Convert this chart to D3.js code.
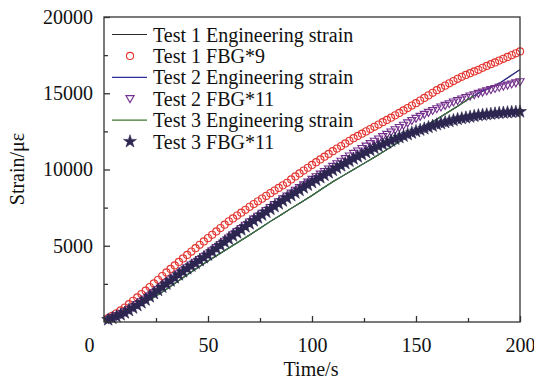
<!DOCTYPE html>
<html>
<head>
<meta charset="utf-8">
<script src="https://cdn.jsdelivr.net/npm/d3@7"></script>
<style>
  html, body { margin: 0; padding: 0; background: #fff; }
  svg { display: block; }
  svg text { font-family: "Liberation Serif", "Times New Roman", Times, serif !important; }
</style>
</head>
<body>
<svg id="chart" width="534" height="384"></svg>
<script>
// Sampling times (s)
const fbgTime = d3.range(2, 201, 2);
const engTime = [2, 5, 10, 15, 20, 25, 30, 35, 40, 45, 50, 55, 60, 65, 70, 75, 80, 85, 90, 95, 100,
  105, 110, 115, 120, 125, 130, 135, 140, 145, 150, 155, 160, 165, 170, 175, 180, 185, 190, 195, 200];

// Engineering strain (με)
const eng1 = [120, 250, 560, 900, 1280, 1700, 2150, 2620, 3100, 3560, 4000, 4430, 4850, 5280, 5700, 6150, 6600,
  7020, 7450, 7870, 8300, 8750, 9200, 9600, 10000, 10400, 10800, 11220, 11650, 12080, 12500, 12900, 13300,
  13720, 14150, 14600, 15000, 15330, 15650, 16100, 16550];
const eng2 = [120, 250, 560, 900, 1280, 1700, 2150, 2620, 3100, 3560, 4000, 4430, 4850, 5280, 5700, 6150, 6600,
  7020, 7450, 7870, 8300, 8750, 9200, 9600, 10000, 10400, 10800, 11220, 11650, 12080, 12500, 12900, 13300,
  13720, 14150, 14600, 15000, 15330, 15650, 16100, 16550];
const eng3Time = [2, 5, 10, 15, 20, 25, 30, 35, 40, 45, 50, 55, 60, 65, 70, 75, 80, 85, 90, 95, 100,
  105, 110, 115, 120, 125, 130, 135, 140, 145, 150, 155, 160, 165, 170, 175, 178];
const eng3 = [120, 250, 560, 900, 1280, 1700, 2150, 2620, 3100, 3560, 4000, 4430, 4850, 5280, 5700, 6150, 6600,
  7020, 7450, 7870, 8300, 8750, 9200, 9600, 10000, 10400, 10800, 11220, 11650, 12080, 12500, 12900, 13300,
  13720, 14150, 14600, 14850];

// FBG strain, scaled (με)
const fbg1 = [250, 400, 570, 760, 950, 1170, 1390, 1610, 1830, 2050, 2290, 2530, 2770, 3010, 3250, 3480, 3710,
  3940, 4170, 4400, 4620, 4840, 5060, 5280, 5500, 5720, 5940, 6160, 6380, 6600, 6790, 6980, 7170, 7360, 7550,
  7730, 7910, 8090, 8270, 8450, 8620, 8790, 8960, 9130, 9350, 9545, 9740, 9930, 10115, 10300, 10480, 10660,
  10840, 11020, 11200, 11370, 11540, 11710, 11880, 12050, 12200, 12350, 12500, 12650, 12800, 12950, 13100,
  13250, 13400, 13550, 13710, 13870, 14030, 14190, 14350, 14520, 14690, 14860, 15030, 15200, 15350, 15500,
  15650, 15800, 15950, 16075, 16200, 16315, 16430, 16540, 16665, 16790, 16905, 17020, 17140, 17260, 17380,
  17500, 17620, 17740];
const fbg2 = [180, 280, 390, 510, 640, 800, 970, 1140, 1320, 1500, 1710, 1920, 2130, 2340, 2550, 2750, 2950,
  3150, 3350, 3550, 3730, 3910, 4090, 4270, 4450, 4660, 4870, 5080, 5290, 5500, 5710, 5920, 6130, 6340, 6550,
  6740, 6930, 7120, 7310, 7500, 7690, 7880, 8070, 8260, 8450, 8630, 8810, 8990, 9170, 9350, 9520, 9690, 9860,
  10030, 10200, 10370, 10540, 10710, 10880, 11050, 11210, 11370, 11530, 11690, 11850, 12000, 12150, 12300,
  12450, 12600, 12750, 12900, 13050, 13200, 13350, 13480, 13610, 13740, 13860, 13980, 14090, 14200, 14310,
  14420, 14520, 14620, 14720, 14810, 14900, 14990, 15070, 15150, 15230, 15310, 15390, 15460, 15530, 15600,
  15675, 15750];
const fbg3 = [150, 250, 360, 480, 600, 760, 920, 1090, 1270, 1450, 1660, 1870, 2080, 2290, 2500, 2700, 2900,
  3100, 3300, 3500, 3680, 3860, 4040, 4220, 4400, 4610, 4820, 5030, 5240, 5450, 5650, 5850, 6050, 6250, 6450,
  6640, 6830, 7020, 7210, 7400, 7580, 7760, 7940, 8120, 8300, 8470, 8640, 8810, 8980, 9150, 9310, 9470, 9630,
  9790, 9950, 10100, 10250, 10400, 10550, 10700, 10840, 10980, 11120, 11260, 11400, 11520, 11640, 11760,
  11880, 12000, 12100, 12200, 12300, 12400, 12500, 12590, 12680, 12770, 12860, 12950, 13020, 13090, 13160,
  13230, 13300, 13350, 13400, 13450, 13500, 13550, 13580, 13610, 13640, 13670, 13700, 13720, 13740, 13760,
  13775, 13790];

// Axis ticks
const xTicks = [0, 50, 100, 150, 200];
const xMinor = [25, 75, 125, 175];
const yTicks = [5000, 10000, 15000, 20000];
const yMinor = [2500, 7500, 12500, 17500];

const legendLabels = ["Test 1 Engineering strain", "Test 1 FBG*9", "Test 2 Engineering strain",
  "Test 2 FBG*11", "Test 3 Engineering strain", "Test 3 FBG*11"];

const colors = {
  eng1: "#2a2a2a", fbg1: "#e3342f", eng2: "#2f2f9a",
  fbg2: "#74308c", eng3: "#3d7a2c", fbg3: "#2c2650"
};

const SERIF = "'Liberation Serif', 'Times New Roman', Times, serif";

const svg = d3.select("#chart");
const plot = { left: 104, right: 520, top: 17, bottom: 322 };

const x = d3.scaleLinear().domain([0, 200]).range([plot.left, plot.right]);
const y = d3.scaleLinear().domain([0, 20000]).range([plot.bottom, plot.top]);

// Marker shapes
const circleSym = d3.symbol().type(d3.symbolCircle).size(40);
const triDown = (s) => `M${-s},${-s * 0.75}L${s},${-s * 0.75}L0,${s * 0.95}Z`;
const starSym = d3.symbol().type(d3.symbolStar).size(52);

const line = d3.line().x(d => x(d[0])).y(d => y(d[1]));

function drawLine(times, vals, color) {
  svg.append("path")
    .attr("d", line(d3.zip(times, vals)))
    .attr("fill", "none")
    .attr("stroke", color)
    .attr("stroke-width", 1.1);
}

function drawMarkers(vals, kind) {
  const g = svg.append("g");
  const pts = d3.zip(fbgTime, vals);
  const sel = g.selectAll("path").data(pts).join("path")
    .attr("transform", d => `translate(${x(d[0])},${y(d[1])})`);
  if (kind === "circle") {
    sel.attr("d", circleSym).attr("fill", "none").attr("stroke", colors.fbg1).attr("stroke-width", 1.1);
  } else if (kind === "tri") {
    sel.attr("d", triDown(4.1)).attr("fill", "none").attr("stroke", colors.fbg2).attr("stroke-width", 1.1);
  } else {
    sel.attr("d", starSym).attr("fill", colors.fbg3).attr("stroke", colors.fbg3).attr("stroke-width", 0.6);
  }
}

// Series, in legend order
drawLine(engTime, eng1, colors.eng1);
drawMarkers(fbg1, "circle");
drawLine(engTime, eng2, colors.eng2);
drawMarkers(fbg2, "tri");
drawLine(eng3Time, eng3, colors.eng3);
drawMarkers(fbg3, "star");

// Frame
svg.append("rect")
  .attr("x", plot.left).attr("y", plot.top)
  .attr("width", plot.right - plot.left).attr("height", plot.bottom - plot.top)
  .attr("fill", "none").attr("stroke", "#333").attr("stroke-width", 1.3);

// Bottom axis, ticks pointing inward
const xAxis = svg.append("g").attr("transform", `translate(0,${plot.bottom})`)
  .call(d3.axisBottom(x).tickValues(xTicks).tickSize(-6).tickPadding(16).tickFormat(d3.format("d")));
xAxis.attr("font-family", null).attr("font-size", null);
xAxis.select(".domain").remove();
xAxis.selectAll(".tick line").attr("stroke", "#333").attr("stroke-width", 1.3);
xAxis.selectAll(".tick text").attr("font-size", 20).style("font-family", SERIF).attr("fill", "#111")
  .attr("dx", d => d === 0 ? -15 : 0);
svg.append("g").attr("transform", `translate(0,${plot.bottom})`)
  .call(d3.axisBottom(x).tickValues(xMinor).tickSize(-4).tickFormat(""))
  .call(g => g.select(".domain").remove())
  .selectAll(".tick line").attr("stroke", "#333").attr("stroke-width", 1.3);

// Left axis, ticks pointing inward
const yAxis = svg.append("g").attr("transform", `translate(${plot.left},0)`)
  .call(d3.axisLeft(y).tickValues(yTicks).tickSize(-6).tickPadding(11).tickFormat(d3.format("d")));
yAxis.attr("font-family", null).attr("font-size", null);
yAxis.select(".domain").remove();
yAxis.selectAll(".tick line").attr("stroke", "#333").attr("stroke-width", 1.3);
yAxis.selectAll(".tick text").attr("font-size", 20).style("font-family", SERIF).attr("fill", "#111");
svg.append("g").attr("transform", `translate(${plot.left},0)`)
  .call(d3.axisLeft(y).tickValues(yMinor).tickSize(-4).tickFormat(""))
  .call(g => g.select(".domain").remove())
  .selectAll(".tick line").attr("stroke", "#333").attr("stroke-width", 1.3);

// Axis titles
svg.append("text")
  .attr("x", 311).attr("y", 376)
  .attr("text-anchor", "middle").attr("font-size", 20).style("font-family", SERIF).attr("fill", "#111")
  .text("Time/s");
svg.append("text")
  .attr("transform", "translate(24,169) rotate(-90)")
  .attr("text-anchor", "middle").attr("font-size", 20).style("font-family", SERIF).attr("fill", "#111")
  .text("Strain/με");

// Legend
const legend = svg.append("g");
const legendKinds = ["line", "circle", "line", "tri", "line", "star"];
const legendColors = [colors.eng1, colors.fbg1, colors.eng2, colors.fbg2, colors.eng3, colors.fbg3];
legendLabels.forEach((lab, i) => {
  const cy = 34.5 + i * 21.4;
  const kind = legendKinds[i];
  if (kind === "line") {
    legend.append("line").attr("x1", 112).attr("x2", 147).attr("y1", cy).attr("y2", cy)
      .attr("stroke", legendColors[i]).attr("stroke-width", 1.2);
  } else if (kind === "circle") {
    legend.append("path").attr("d", circleSym).attr("transform", `translate(130,${cy})`)
      .attr("fill", "none").attr("stroke", legendColors[i]).attr("stroke-width", 1.1);
  } else if (kind === "tri") {
    legend.append("path").attr("d", triDown(4.1)).attr("transform", `translate(130,${cy})`)
      .attr("fill", "none").attr("stroke", legendColors[i]).attr("stroke-width", 1.1);
  } else {
    legend.append("path").attr("d", starSym).attr("transform", `translate(130,${cy})`)
      .attr("fill", legendColors[i]).attr("stroke", legendColors[i]).attr("stroke-width", 0.6);
  }
  legend.append("text").attr("x", 153).attr("y", cy + 7)
    .attr("font-size", 20).style("font-family", SERIF).attr("fill", "#111").text(lab);
});
</script>
</body>
</html>
